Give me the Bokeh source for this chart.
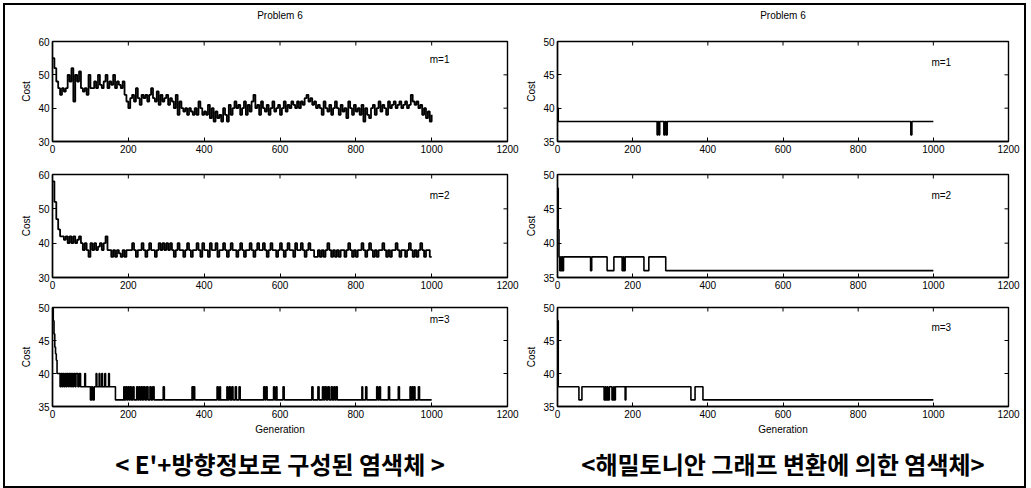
import math
from bokeh.plotting import figure
from bokeh.models import Range1d, FixedTicker, Label, Title, LinearAxis
from bokeh.layouts import column, row
from bokeh.embed import file_html
from bokeh.resources import INLINE

# ---------------- data ----------------
x_ticks = [0, 200, 400, 600, 800, 1000, 1200]
y_ticks_wide = [30, 40, 50, 60]
y_ticks_narrow = [35, 40, 45, 50]
panel_labels = ["m=1", "m=2", "m=3"]
title_text = "Problem 6"
x_title = "Generation"
y_title = "Cost"
caption_left = "< E'+방향정보로 구성된 염색체 >"
caption_right = "<해밀토니안 그래프 변환에 의한 염색체>"

# sampling grid (every 5 generations) for the two dense left-hand runs
gen_grid = list(range(0, 1001, 5))

cost_left_m1 = [
    55, 52, 48, 46, 44, 46, 45, 46, 50, 48,
    52, 42, 50, 48, 51, 46, 45, 46, 44, 50,
    46, 46, 48, 46, 50, 47, 46, 48, 50, 46,
    48, 47, 50, 46, 48, 47, 46, 48, 44, 42,
    40, 43, 44, 42, 46, 43, 41, 44, 43, 44,
    42, 44, 46, 43, 42, 45, 41, 44, 42, 43,
    44, 41, 43, 42, 40, 44, 38, 42, 40, 39,
    40, 38, 40, 39, 38, 40, 38, 42, 40, 38,
    39, 38, 41, 37, 40, 36, 39, 37, 38, 36,
    40, 38, 36, 41, 38, 40, 42, 40, 41, 38,
    40, 42, 38, 41, 39, 42, 44, 40, 41, 38,
    42, 40, 39, 41, 38, 40, 42, 39, 40, 41,
    38, 40, 42, 39, 41, 40, 42, 41, 40, 42,
    40, 42, 41, 43, 44, 42, 43, 41, 42, 40,
    41, 40, 38, 42, 40, 39, 41, 38, 40, 42,
    40, 38, 41, 39, 40, 37, 42, 40, 38, 41,
    39, 40, 38, 41, 36, 40, 38, 37, 40, 41,
    38, 40, 42, 39, 41, 40, 38, 42, 40, 41,
    42, 40, 41, 42, 40, 41, 42, 40, 41, 44,
    42, 41, 42, 40, 41, 38, 40, 37, 39, 36,
    38,
]

cost_left_m2 = [
    58, 52, 47, 44, 42, 42, 41, 42, 40, 42,
    40, 42, 40, 41, 42, 40, 38, 40, 38, 36,
    40, 38, 40, 38, 39, 40, 38, 40, 42, 38,
    38, 36, 38, 36, 38, 37, 36, 38, 36, 38,
    38, 38, 40, 38, 36, 38, 38, 40, 38, 36,
    38, 40, 38, 38, 36, 38, 40, 38, 40, 38,
    40, 38, 40, 38, 36, 38, 40, 38, 38, 36,
    38, 40, 38, 36, 38, 38, 40, 38, 36, 40,
    38, 38, 36, 40, 38, 38, 40, 36, 38, 38,
    40, 38, 36, 38, 40, 38, 38, 36, 38, 40,
    38, 36, 38, 38, 40, 38, 36, 38, 40, 38,
    38, 40, 38, 36, 38, 40, 38, 38, 36, 38,
    40, 38, 36, 38, 40, 38, 38, 36, 40, 38,
    38, 40, 38, 36, 38, 40, 38, 38, 36, 36,
    38, 36, 38, 36, 38, 40, 38, 36, 38, 36,
    38, 36, 38, 38, 36, 38, 40, 38, 36, 38,
    36, 38, 38, 40, 38, 36, 38, 40, 38, 36,
    38, 36, 38, 38, 40, 38, 36, 38, 36, 38,
    38, 40, 38, 36, 38, 38, 36, 38, 40, 38,
    36, 38, 36, 38, 40, 38, 36, 38, 38, 36,
    36,
]

gen_left_m3 = [
    0, 2, 4, 6, 8, 10, 12,
    20, 22, 25, 27, 30, 33, 36, 38, 42, 44, 48, 50, 53, 56, 60, 62, 67, 70, 74,
    85, 87,
    100, 103, 106, 110,
    115, 117, 123, 125, 130, 132, 138, 140, 148, 150,
    166,
    188, 190, 193, 196, 199, 202, 205, 208, 212, 215, 222, 225, 228, 231, 234, 237, 240, 244, 248, 252, 257, 260, 264, 268,
    292, 295,
    368, 370, 372, 375,
    434, 437, 441, 443,
    460, 462, 466, 469, 473, 476, 482, 485, 492, 495,
    557, 560, 563, 566,
    583, 586, 590, 592,
    608, 611,
    684, 687, 700, 703, 712, 715, 718, 722, 726, 730, 735, 738, 742, 745, 748, 751,
    816, 818, 826, 829,
    855, 858, 862, 865,
    886, 889,
    912, 915,
    943, 945, 948, 950, 953, 956,
    965, 968,
    1000,
]
cost_left_m3 = [
    50, 48, 46, 44, 43, 42, 40,
    38, 40, 38, 40, 38, 40, 38, 40, 38, 40, 38, 40, 38, 40, 38, 40, 38, 40, 38,
    40, 38,
    36, 38, 36, 38,
    40, 38, 40, 38, 40, 38, 40, 38, 40, 38,
    36,
    38, 36, 38, 36, 38, 36, 38, 36, 38, 36, 38, 36, 38, 36, 38, 36, 38, 36, 38, 36, 38, 36, 38, 36,
    38, 36,
    38, 36, 38, 36,
    38, 36, 38, 36,
    38, 36, 38, 36, 38, 36, 38, 36, 38, 36,
    38, 36, 38, 36,
    38, 36, 38, 36,
    38, 36,
    38, 36, 38, 36, 38, 36, 38, 36, 38, 36, 38, 36, 38, 36, 38, 36,
    38, 36, 38, 36,
    38, 36, 38, 36,
    38, 36,
    38, 36,
    38, 36, 38, 36, 38, 36,
    38, 36,
    36,
]

gen_right_m1 = [0, 2, 265, 267, 270, 272, 283, 286, 289, 292, 940, 943, 1000]
cost_right_m1 = [40, 38, 36, 38, 36, 38, 36, 38, 36, 38, 36, 38, 38]

gen_right_m2 = [0, 2, 4, 6, 8, 10, 12, 14, 16, 88, 91, 132, 150, 172, 175, 177, 180, 230, 243, 288, 1000]
cost_right_m2 = [48, 42, 38, 36, 38, 36, 38, 36, 38, 36, 38, 36, 38, 36, 38, 36, 38, 36, 38, 36, 36]

gen_right_m3 = [0, 2, 57, 65, 124, 127, 129, 132, 134, 138, 145, 149, 151, 154, 180, 182, 355, 366, 387, 1000]
cost_right_m3 = [48, 38, 36, 38, 36, 38, 36, 38, 36, 38, 36, 38, 36, 38, 36, 38, 36, 38, 36, 36]

# ---------------- styling helpers ----------------
FONT = "Liberation Sans"
KFONT = "Noto Sans CJK KR"


def make_panel(xs, ys, y_lim, y_ticks, label, label_y, left_col,
               border_top, border_bottom, frame_h, lw=1.6, top_title=False,
               x_label=False, caption=None):
    if left_col:
        mbl, fw, mbr = 47, 455, 15
    else:
        mbl, fw, mbr = 35, 451, 16
    p = figure(frame_width=fw, frame_height=frame_h,
               x_range=Range1d(0, 1200), y_range=Range1d(*y_lim),
               output_backend="svg", toolbar_location=None, title=None,
               min_border_left=mbl, min_border_right=mbr,
               min_border_top=border_top, min_border_bottom=border_bottom,
               background_fill_color="white", border_fill_color="white",
               outline_line_color="black", outline_line_width=1.4)
    p.grid.visible = False

    for ax, ticks in ((p.xaxis[0], x_ticks), (p.yaxis[0], y_ticks)):
        ax.ticker = FixedTicker(ticks=ticks)
        ax.major_tick_in = 4
        ax.major_tick_out = 0
        ax.minor_tick_line_color = None
        ax.axis_line_color = "black"
        ax.axis_line_width = 1.4
        ax.major_tick_line_color = "black"
        ax.major_label_text_font = FONT
        ax.major_label_text_font_size = "10px"
        ax.major_label_text_color = "black"
        ax.major_label_standoff = 3
        ax.axis_label_text_font = FONT
        ax.axis_label_text_font_size = "10px"
        ax.axis_label_text_font_style = "normal"
        ax.axis_label_text_color = "black"
    p.yaxis[0].axis_label = y_title
    p.yaxis[0].axis_label_standoff = 3
    if x_label:
        p.xaxis[0].axis_label = x_title
        p.xaxis[0].axis_label_standoff = 3

    # inward tick marks on the top and right edges (box style)
    p.scatter(x_ticks, [y_lim[1]] * len(x_ticks), marker="dash", size=8,
              angle=math.pi / 2, line_color="black", line_width=1)
    p.scatter([1200] * len(y_ticks), y_ticks, marker="dash", size=8,
              line_color="black", line_width=1)

    if top_title:
        # tick-less top axis whose label serves as the panel title
        top_ax = LinearAxis(ticker=FixedTicker(ticks=[]), axis_line_color=None,
                            major_tick_in=0, major_tick_out=0,
                            major_tick_line_color=None,
                            minor_tick_line_color=None,
                            major_label_standoff=0,
                            axis_label=title_text, axis_label_standoff=21,
                            axis_label_text_font=FONT,
                            axis_label_text_font_size="10px",
                            axis_label_text_font_style="normal",
                            axis_label_text_color="black")
        p.add_layout(top_ax, "above")
    if caption is not None:
        p.add_layout(Title(text=caption, align="center", text_font=KFONT,
                           text_font_size="24px", text_font_style="bold",
                           text_color="black", standoff=12), "below")

    p.step(xs, ys, mode="after", line_color="black", line_width=lw)
    p.add_layout(Label(x=995, y=label_y, text=label, text_font=FONT,
                       text_font_size="10px", text_baseline="middle",
                       text_color="black"))
    return p


l1 = make_panel(gen_grid, cost_left_m1, (30, 60), y_ticks_wide, panel_labels[0], 54.5,
                True, 36, 18, 100, lw=1.8, top_title=True)
r1 = make_panel(gen_right_m1, cost_right_m1, (35, 50), y_ticks_narrow, panel_labels[0], 46.8,
                False, 36, 18, 100, top_title=True)
l2 = make_panel(gen_grid, cost_left_m2, (30, 60), y_ticks_wide, panel_labels[1], 53.8,
                True, 15, 15, 103, lw=1.8)
r2 = make_panel(gen_right_m2, cost_right_m2, (35, 50), y_ticks_narrow, panel_labels[1], 46.9,
                False, 15, 15, 103)
l3 = make_panel(gen_left_m3, cost_left_m3, (35, 50), y_ticks_narrow, panel_labels[2], 48.2,
                True, 15, 75, 99, x_label=True, caption=caption_left)
r3 = make_panel(gen_right_m3, cost_right_m3, (35, 50), y_ticks_narrow, panel_labels[2], 46.9,
                False, 15, 75, 99, x_label=True, caption=caption_right)

layout = column(row(l1, r1), row(l2, r2), row(l3, r3),
                styles={"border": "2px solid black", "margin": "3px 5px 0px 3px"})

open("out.html", "w").write(file_html(layout, INLINE))
